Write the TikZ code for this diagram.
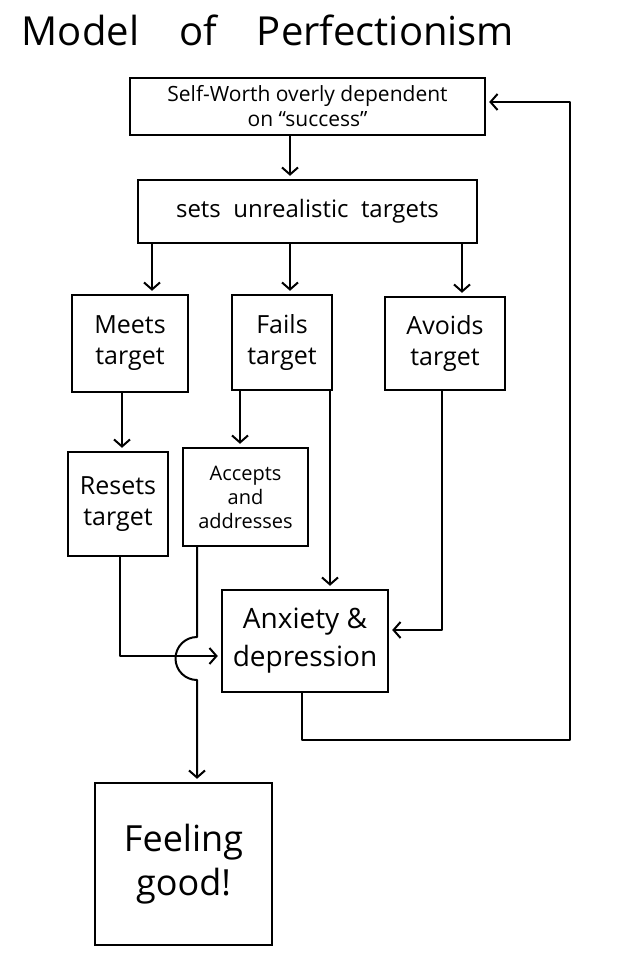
\documentclass[tikz,border=0pt]{standalone}
\usepackage{fontspec}
\setmainfont{Open Sans}
\usetikzlibrary{arrows.meta}
\begin{document}
\begin{tikzpicture}[x=1pt,y=-1pt,
  box/.style={draw, line width=2.4pt, align=center, inner sep=0pt},
  link/.style={line width=2pt, line join=round},
  arr/.style={link, -{Straight Barb[length=7pt,width=16pt,line width=2pt]}, shorten >=3pt}]
\useasboundingbox (0,0) rectangle (640,960);
\fill[white] (0,0) rectangle (640,960);

\node[font=\fontsize{40}{44}\selectfont] (title) at (268,30) {Model\quad of\quad Perfectionism};

\node[box, minimum width=355pt, minimum height=57pt, font=\fontsize{21}{25}\selectfont] (b1) at (307.5,106.5)
  {Self-Worth overly dependent\\ on “success”};
\node[box, minimum width=339pt, minimum height=63pt, font=\fontsize{24}{28}\selectfont] (b2) at (307.5,211.5)
  {sets\ \ unrealistic\ \ targets};
\node[box, minimum width=116pt, minimum height=97pt, font=\fontsize{25}{31}\selectfont] (meets) at (130,343.5)
  {Meets\\target};
\node[box, minimum width=100pt, minimum height=95pt, font=\fontsize{25}{31}\selectfont] (fails) at (282,342.5)
  {Fails\\target};
\node[box, minimum width=120pt, minimum height=93pt, font=\fontsize{25}{31}\selectfont] (avoids) at (445,343.5)
  {Avoids\\target};
\node[box, minimum width=100pt, minimum height=104pt, font=\fontsize{25}{31}\selectfont] (resets) at (118,504)
  {Resets\\target};
\node[box, minimum width=125pt, minimum height=98pt, font=\fontsize{20}{24}\selectfont] (accepts) at (245.5,497)
  {Accepts\\and\\addresses};
\node[box, minimum width=166pt, minimum height=102pt, font=\fontsize{28}{38}\selectfont] (anx) at (305,641)
  {Anxiety \&\\depression};
\node[box, minimum width=177pt, minimum height=162pt, font=\fontsize{36}{44}\selectfont] (feel) at (183.5,864)
  {Feeling\\good!};

\coordinate (x290) at (290,0);
\coordinate (x152) at (152,0);
\coordinate (x462) at (462,0);
\coordinate (x122) at (122,0);
\coordinate (x240) at (240,0);
\coordinate (x330) at (330,0);
\coordinate (x120) at (120,0);
\coordinate (x197) at (197,0);
\coordinate (avbend) at (442,630);
\coordinate (hop) at (197,637);
\coordinate (y656) at (0,656);
\coordinate (fb1) at (302,740);
\coordinate (fb2) at (570,740);
\coordinate (fb3) at (570,102);

\draw[arr] (b1.south -| x290) -- (b2.north -| x290);
\draw[arr] (b2.south -| x152) -- (meets.north -| x152);
\draw[arr] (b2.south -| x290) -- (fails.north -| x290);
\draw[arr] (b2.south -| x462) -- (avoids.north -| x462);
\draw[arr] (meets.south -| x122) -- (resets.north -| x122);
\draw[arr] (fails.south -| x240) -- (accepts.north -| x240);
\draw[arr] (fails.south -| x330) -- (anx.north -| x330);
\draw[arr] (avoids.south -| avbend) -- (avbend) -- (anx.east |- avbend);
\draw[arr] (resets.south -| x120) |- (anx.west |- y656);
\draw[arr] (accepts.south -| x197) -- (hop)
  arc[start angle=90, end angle=270, radius=21.5pt] -- (feel.north -| x197);
\draw[arr] (anx.south -| fb1) -- (fb1) -- (fb2) -- (fb3) -- (b1.east |- fb3);
\end{tikzpicture}
\end{document}
